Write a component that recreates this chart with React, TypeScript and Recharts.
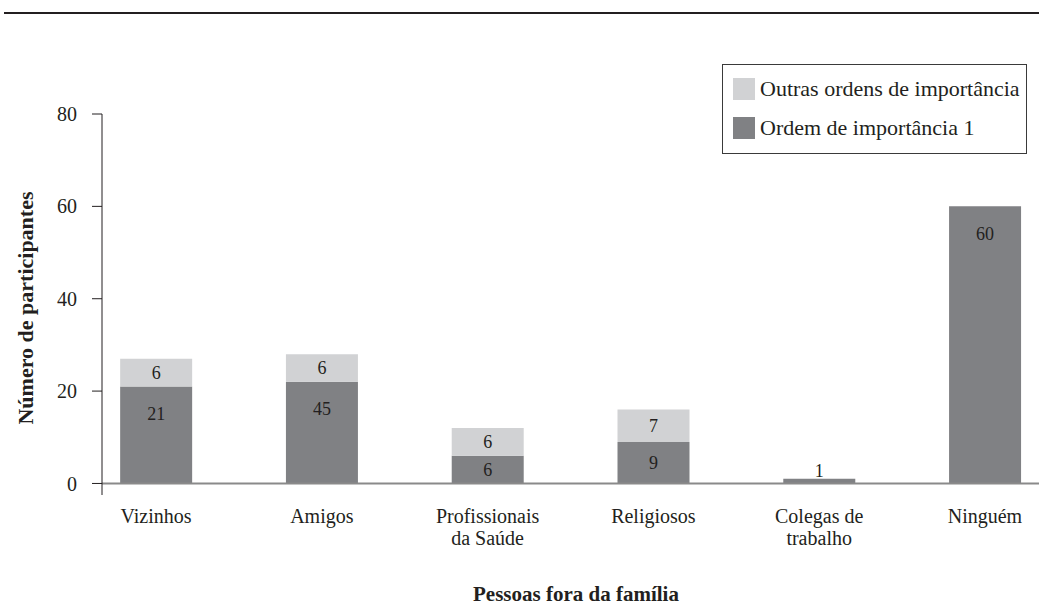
import React from "react";
import {
  BarChart,
  Bar,
  XAxis,
  YAxis,
  Legend,
  LabelList,
  ReferenceLine,
  Customized,
} from "recharts";

const categories = [
  "Vizinhos",
  "Amigos",
  "Profissionais\nda Saúde",
  "Religiosos",
  "Colegas de\ntrabalho",
  "Ninguém",
];
const primaryValues = [21, 22, 6, 9, 1, 60];
const primaryLabels = ["21", "45", "6", "9", "1", "60"];
const otherValues = [6, 6, 6, 7, 0, 0];
const otherLabels = ["6", "6", "6", "7", "", ""];
const yTicks = [0, 20, 40, 60, 80];
const seriesNames = ["Ordem de importância 1", "Outras ordens de importância"];
const yTitle = "Número de participantes";
const xTitle = "Pessoas fora da família";

const data = categories.map((c, i) => ({
  idx: i,
  name: c,
  primary: primaryValues[i],
  other: otherValues[i],
  primaryLabel: primaryLabels[i],
  otherLabel: otherLabels[i],
}));

const FONT = "'Liberation Serif', 'Times New Roman', serif";
const TEXT = "#231f20";
const DARK = "#808184";
const LIGHT = "#d1d2d4";

const renderLabel = (props: any) => {
  const { x, y, width, height, value } = props;
  if (value === undefined || value === null || value === "") return null;
  const h = Number(height);
  const cy = h < 14 ? Number(y) - 8 : Math.min(Number(y) + h / 2, Number(y) + 27);
  return (
    <text
      x={Number(x) + Number(width) / 2}
      y={cy}
      dy="0.35em"
      textAnchor="middle"
      fontSize={18}
      fontFamily={FONT}
      fill={TEXT}
    >
      {value}
    </text>
  );
};

const XTick = (props: any) => {
  const { x, y, payload } = props;
  const label = categories[payload.value];
  if (label === undefined) return null;
  const lines = label.split("\n");
  return (
    <text x={x} y={y} textAnchor="middle" fontSize={20} fontFamily={FONT} fill={TEXT}>
      {lines.map((l: string, i: number) => (
        <tspan key={i} x={x} dy={i === 0 ? 28 : 22}>
          {l}
        </tspan>
      ))}
    </text>
  );
};

const LegendContent = (props: any) => {
  const payload = [...(props.payload || [])].reverse();
  return (
    <div
      style={{
        border: "1px solid #3a3a3a",
        boxSizing: "border-box",
        width: 305,
        height: 90,
        padding: "13px 0 0 10px",
        fontFamily: FONT,
        fontSize: 22,
        color: TEXT,
        background: "#fff",
      }}
    >
      {payload.map((p: any, i: number) => (
        <div
          key={i}
          style={{ display: "flex", alignItems: "center", height: 22, marginBottom: 17 }}
        >
          <span
            style={{
              display: "inline-block",
              width: 22,
              height: 22,
              background: p.color,
              marginRight: 5,
            }}
          />
          <span style={{ lineHeight: "22px", whiteSpace: "nowrap" }}>{p.value}</span>
        </div>
      ))}
    </div>
  );
};

const Decorations = () => (
  <g>
    <line x1={4} x2={1039} y1={13} y2={13} stroke={TEXT} strokeWidth={2} />
    <text
      x={576}
      y={601}
      textAnchor="middle"
      fontSize={21}
      fontWeight="bold"
      fontFamily={FONT}
      fill={TEXT}
    >
      {xTitle}
    </text>
    <text
      x={0}
      y={0}
      transform="translate(33, 308) rotate(-90)"
      textAnchor="middle"
      fontSize={22}
      fontWeight="bold"
      fontFamily={FONT}
      fill={TEXT}
    >
      {yTitle}
    </text>
  </g>
);

export default function App() {
  return (
    <div style={{ position: "absolute", left: 0, top: 0, width: 1039, height: 606, background: "#fff" }}>
      <BarChart
        width={1039}
        height={606}
        data={data}
        margin={{ top: 114, right: 0, bottom: 51, left: 0 }}
      >
        <XAxis
          dataKey="idx"
          type="number"
          domain={[-0.326, 5.326]}
          ticks={[0, 1, 2, 3, 4, 5]}
          allowDataOverflow
          axisLine={false}
          tickLine={false}
          tickSize={0}
          tickMargin={0}
          height={60}
          tick={<XTick />}
          interval={0}
        />
        <YAxis
          type="number"
          domain={[-2.5, 80]}
          ticks={yTicks}
          allowDataOverflow
          width={102}
          axisLine={{ stroke: TEXT, strokeWidth: 1 }}
          tickLine={{ stroke: TEXT, strokeWidth: 1 }}
          tickSize={10}
          tickMargin={15}
          tick={{ fontSize: 20, fontFamily: FONT, fill: TEXT }}
        />
        <Legend
          layout="vertical"
          align="center"
          verticalAlign="middle"
          content={<LegendContent />}
          wrapperStyle={{ position: "absolute", left: 722, top: 64, width: 305, height: 90 }}
        />
        <Bar
          dataKey="primary"
          name={seriesNames[0]}
          stackId="a"
          fill={DARK}
          barSize={72}
          isAnimationActive={false}
        >
          <LabelList dataKey="primaryLabel" content={renderLabel} />
        </Bar>
        <Bar
          dataKey="other"
          name={seriesNames[1]}
          stackId="a"
          fill={LIGHT}
          barSize={72}
          isAnimationActive={false}
        >
          <LabelList dataKey="otherLabel" content={renderLabel} />
        </Bar>
        <ReferenceLine y={0} stroke="#8a8a8a" strokeWidth={2} />
        <Customized component={Decorations} />
      </BarChart>
    </div>
  );
}
